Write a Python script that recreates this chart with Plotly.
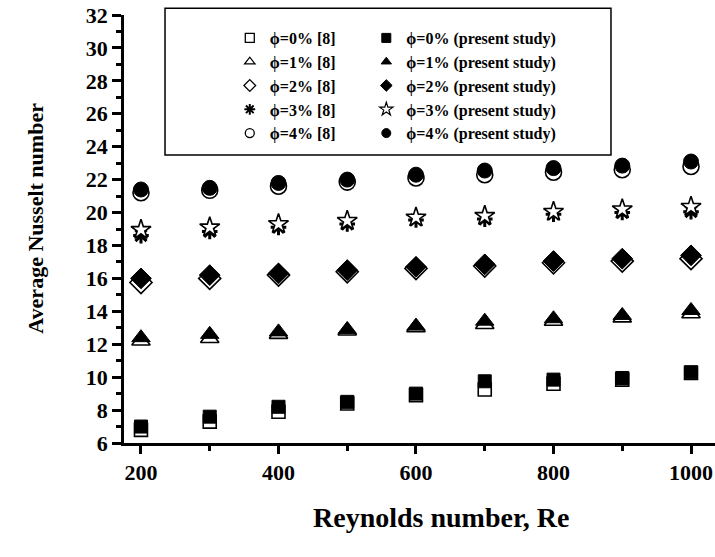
import plotly.graph_objects as go

re_vals = [200, 300, 400, 500, 600, 700, 800, 900, 1000]

ref_0 = [6.8, 7.3, 7.9, 8.4, 8.9, 9.25, 9.6, 9.85, 10.25]
ref_1 = [12.2, 12.35, 12.6, 12.8, 13.0, 13.2, 13.4, 13.6, 13.85]
ref_2 = [15.75, 16.0, 16.2, 16.4, 16.6, 16.75, 16.95, 17.05, 17.2]
ref_3 = [18.6, 18.85, 19.1, 19.3, 19.55, 19.6, 19.9, 20.0, 20.05]
ref_4 = [21.2, 21.35, 21.6, 21.85, 22.1, 22.3, 22.45, 22.6, 22.8]

pres_0 = [7.0, 7.6, 8.2, 8.5, 9.0, 9.75, 9.85, 9.95, 10.3]
pres_1 = [12.4, 12.6, 12.75, 12.9, 13.1, 13.4, 13.55, 13.75, 14.05]
pres_2 = [16.0, 16.2, 16.3, 16.5, 16.7, 16.85, 17.05, 17.2, 17.4]
pres_3 = [18.95, 19.1, 19.3, 19.5, 19.7, 19.8, 20.05, 20.2, 20.35]
pres_4 = [21.4, 21.5, 21.8, 22.0, 22.3, 22.55, 22.7, 22.85, 23.1]

ref_names = ["ϕ=0% [8]", "ϕ=1% [8]", "ϕ=2% [8]", "ϕ=3% [8]", "ϕ=4% [8]"]
pres_names = ["ϕ=0% (present study)", "ϕ=1% (present study)", "ϕ=2% (present study)",
              "ϕ=3% (present study)", "ϕ=4% (present study)"]

x_title = "Reynolds number, Re"
y_title = "Average Nusselt number"

FONT = "Liberation Serif"

fig = go.Figure()

ref_series = [ref_0, ref_1, ref_2, ref_3, ref_4]
pres_series = [pres_0, pres_1, pres_2, pres_3, pres_4]
ref_symbols = ["square", "triangle-up", "diamond", "asterisk-open", "circle"]
ref_sizes = [13, 16, 17, 13, 16]
pres_symbols = ["square", "triangle-up", "diamond", "star", "circle"]
pres_sizes = [13, 16, 16, 15, 15]


def ref_marker(i, size):
    if ref_symbols[i] == "asterisk-open":
        return dict(symbol=ref_symbols[i], size=size, color="black",
                    line=dict(color="black", width=3 if size > 11 else 2))
    return dict(symbol=ref_symbols[i], size=size, color="white",
                line=dict(color="black", width=1.6 if size > 11 else 1.3))


def pres_marker(i, size):
    if pres_symbols[i] == "star":
        return dict(symbol="star", size=size, color="white",
                    line=dict(color="black", width=1.6 if size > 11 else 1.2))
    return dict(symbol=pres_symbols[i], size=size, color="black",
                line=dict(color="black", width=1))


# data traces (no legend entries)
for i in range(5):
    fig.add_trace(go.Scatter(x=re_vals, y=ref_series[i], mode="markers", name=ref_names[i],
                             marker=ref_marker(i, ref_sizes[i]), showlegend=False))
for i in range(5):
    fig.add_trace(go.Scatter(x=re_vals, y=pres_series[i], mode="markers", name=pres_names[i],
                             marker=pres_marker(i, pres_sizes[i]), showlegend=False))

# legend keys (small symbols, no data)
for i in range(5):
    fig.add_trace(go.Scatter(x=[None], y=[None], mode="markers", name=ref_names[i],
                             marker=ref_marker(i, 9), legend="legend", hoverinfo="skip"))
for i in range(5):
    fig.add_trace(go.Scatter(x=[None], y=[None], mode="markers", name=pres_names[i],
                             marker=pres_marker(i, 10 if pres_symbols[i] == "star" else 9),
                             legend="legend2", hoverinfo="skip"))

legend_common = dict(
    yanchor="top", xanchor="left", orientation="v",
    bgcolor="rgba(0,0,0,0)", borderwidth=0, itemsizing="trace",
    font=dict(family=FONT, size=16, color="black", weight="bold"),
    tracegroupgap=0,
)

fig.update_layout(
    width=715, height=557,
    margin=dict(l=124, r=0, t=15, b=114),
    paper_bgcolor="white", plot_bgcolor="white",
    font=dict(family=FONT, color="black", weight="bold"),
    legend=dict(x=0.179, y=0.986, **legend_common),
    legend2=dict(x=0.41, y=0.986, **legend_common),
    shapes=[dict(type="rect", xref="paper", yref="paper",
                 x0=0.0694, x1=0.824, y0=0.673, y1=1.016,
                 line=dict(color="black", width=1.5), fillcolor="rgba(0,0,0,0)", layer="below")],
    annotations=[
        dict(text=x_title, xref="paper", yref="paper", x=0.536, y=-0.175,
             xanchor="center", yanchor="middle", showarrow=False,
             font=dict(family=FONT, size=28, color="black", weight="bold")),
        dict(text=y_title, xref="paper", yref="paper", x=-0.15, y=0.525,
             xanchor="center", yanchor="middle", textangle=-90, showarrow=False,
             font=dict(family=FONT, size=22, color="black", weight="bold")),
    ],
)

fig.update_xaxes(
    range=[175.3, 1034.9], showgrid=False, zeroline=False,
    showline=True, linecolor="black", linewidth=2.5,
    tickmode="linear", tick0=200, dtick=200,
    ticks="outside", ticklen=8, tickwidth=2.5, tickcolor="black",
    minor=dict(tickmode="linear", tick0=200, dtick=100, ticks="outside", ticklen=5, tickwidth=2.5, tickcolor="black"),
    tickfont=dict(family=FONT, size=22, color="black", weight="bold"),
    ticklabeloverflow="allow",
)
fig.update_yaxes(
    range=[6, 32], showgrid=False, zeroline=False,
    showline=True, linecolor="black", linewidth=2.5,
    tickmode="linear", tick0=6, dtick=2,
    ticks="outside", ticklen=9, tickwidth=2.5, tickcolor="black",
    minor=dict(tickmode="linear", tick0=6, dtick=1, ticks="outside", ticklen=5, tickwidth=2.5, tickcolor="black"),
    tickfont=dict(family=FONT, size=22, color="black", weight="bold"),
    ticklabeloverflow="allow",
)

# remove the browser's default 8px page margin so the 715x557 figure fills the window exactly
fig.write_html("out.html", config={"displayModeBar": False},
               post_script="document.body.style.margin='0px';")
